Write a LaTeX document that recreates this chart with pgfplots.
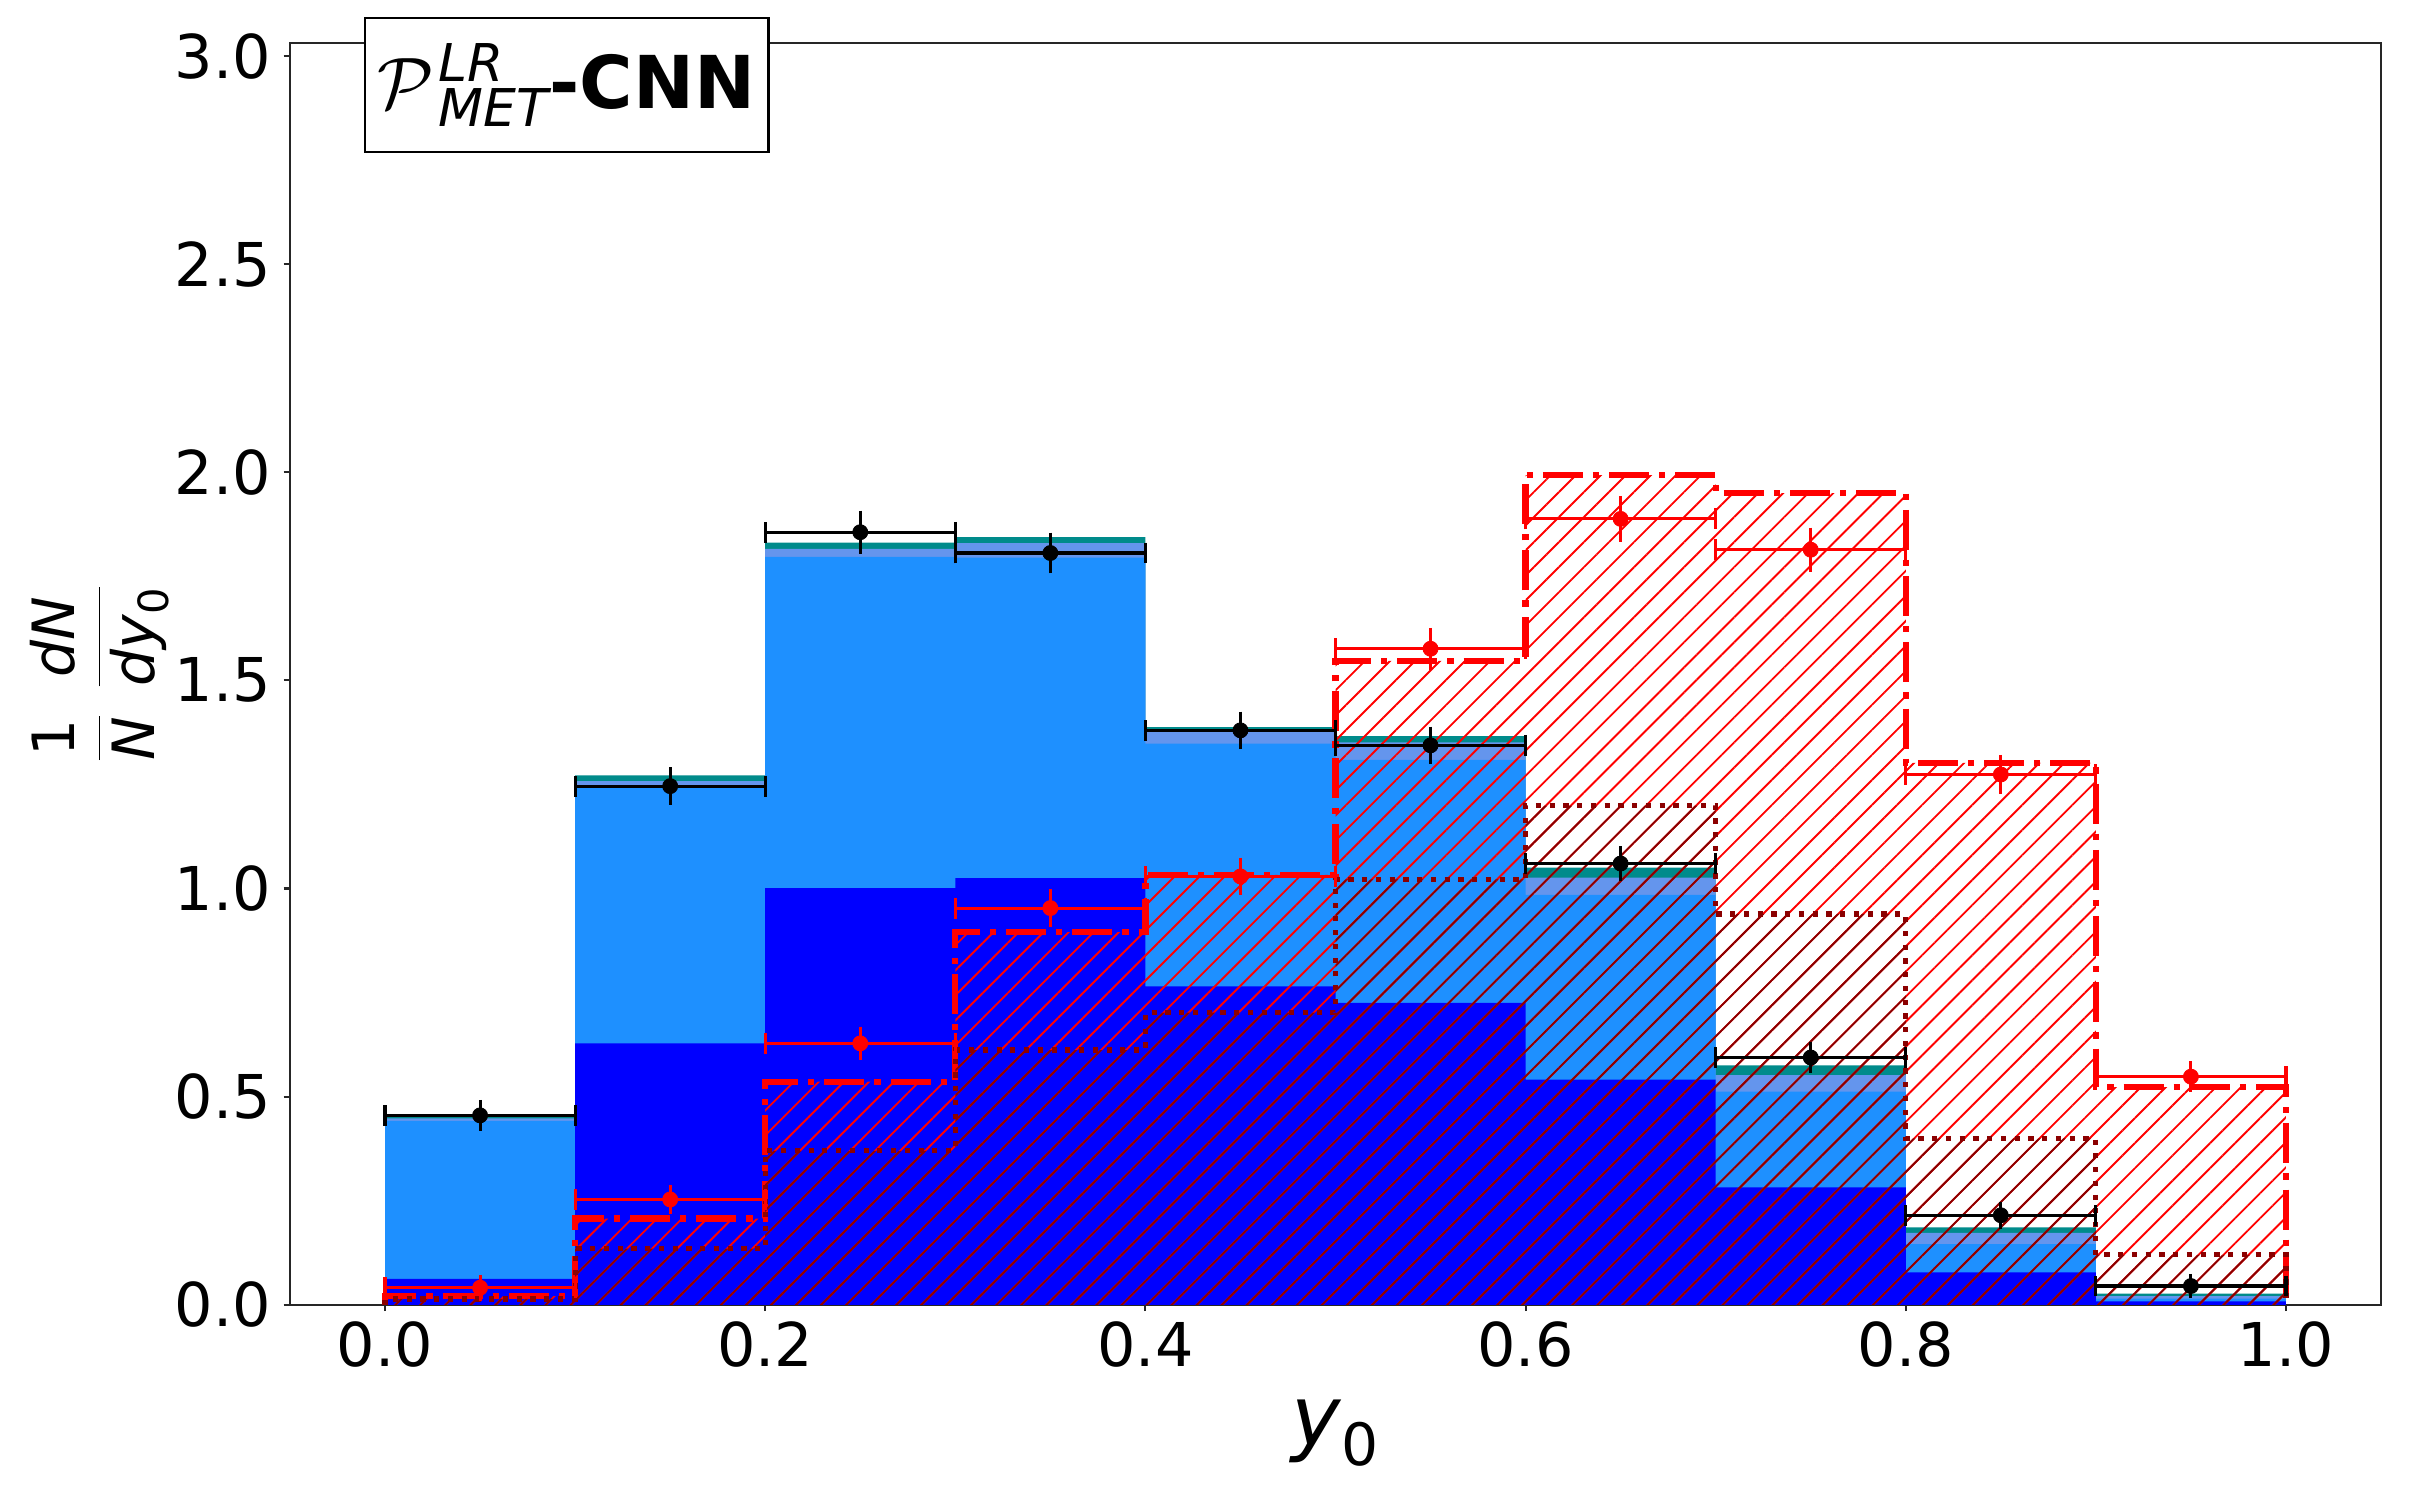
\RequirePackage{fix-cm}
\documentclass[border=0pt]{standalone}
\usepackage{pgfplots}
\pgfplotsset{compat=1.18}
\usepackage{pgfplotstable}
\usepackage{fontspec}
\setmainfont{DejaVu Sans}
\usetikzlibrary{patterns.meta}
\definecolor{dodger}{HTML}{1E90FF}
\definecolor{cornflower}{HTML}{6495ED}
\definecolor{tealc}{HTML}{008B8B}
\definecolor{dred}{HTML}{8B0000}
\definecolor{spine}{HTML}{262626}

\pgfplotstableread{
x y ex ey
0.05 0.455 0.05 0.012
0.15 1.246 0.05 0.020
0.25 1.856 0.05 0.027
0.35 1.806 0.05 0.024
0.45 1.380 0.05 0.020
0.55 1.344 0.05 0.020
0.65 1.060 0.05 0.017
0.75 0.594 0.05 0.012
0.85 0.215 0.05 0.007
0.95 0.045 0.05 0.004
}\blackdata
\pgfplotstableread{
x y ex ey
0.05 0.041 0.05 0.006
0.15 0.253 0.05 0.010
0.25 0.628 0.05 0.015
0.35 0.953 0.05 0.020
0.45 1.029 0.05 0.020
0.55 1.576 0.05 0.025
0.65 1.888 0.05 0.030
0.75 1.814 0.05 0.028
0.85 1.274 0.05 0.022
0.95 0.548 0.05 0.012
}\reddata

\begin{document}
\begin{tikzpicture}
\begin{axis}[name=ax, scale only axis, width=1003.7pt, height=605.8pt,
  xmin=-0.05, xmax=1.05, ymin=0, ymax=3.032,
  xtick={0,0.2,0.4,0.6,0.8,1.0}, xticklabels={0.0,0.2,0.4,0.6,0.8,1.0},
  ytick={0,0.5,1.0,1.5,2.0,2.5,3.0}, yticklabels={0.0,0.5,1.0,1.5,2.0,2.5,3.0},
  xtick pos=bottom, ytick pos=left,
  tick align=outside, major tick length=3pt,
  tick style={line width=1pt, color=spine},
  axis line style={line width=1pt, color=spine},
  tick label style={font=\fontsize{29}{35}\selectfont, inner sep=0pt},
  xticklabel style={yshift=-5pt},
  yticklabel style={xshift=-6pt},
  every axis x label/.style={at={(axis description cs:0.5,-0.1015)}, anchor=center},
  every axis y label/.style={at={(axis description cs:-0.0909,0.5)}, anchor=center, rotate=90},
  xlabel={\fontsize{40}{48}\selectfont $\mbox{\itshape y}_{\mbox{\fontsize{28}{28}\selectfont 0}}$},
  ylabel={\fontsize{28}{34}\selectfont $\displaystyle\frac{\mbox{1}}{\mbox{\itshape N}}\hspace{12pt}\frac{\mbox{\itshape dN}}{\mbox{\itshape dy}_{\mbox{\fontsize{20}{20}\selectfont 0}}}$},
  clip=false,
]
% stacked background (cumulative, drawn top layer first)
\addplot[const plot, fill=tealc, draw=none] coordinates {(0,0.458) (0.1,1.272) (0.2,1.831) (0.3,1.844) (0.4,1.388) (0.5,1.366) (0.6,1.050) (0.7,0.575) (0.8,0.186) (0.9,0.027) (1.0,0.027)} \closedcycle;
\addplot[const plot, fill=cornflower, draw=none] coordinates {(0,0.448) (0.1,1.258) (0.2,1.816) (0.3,1.830) (0.4,1.376) (0.5,1.351) (0.6,1.026) (0.7,0.552) (0.8,0.173) (0.9,0.021) (1.0,0.021)} \closedcycle;
\addplot[const plot, fill=dodger, draw=none] coordinates {(0,0.442) (0.1,1.245) (0.2,1.797) (0.3,1.795) (0.4,1.348) (0.5,1.309) (0.6,0.985) (0.7,0.512) (0.8,0.146) (0.9,0.015) (1.0,0.015)} \closedcycle;
\addplot[const plot, fill=blue, draw=none] coordinates {(0,0.062) (0.1,0.628) (0.2,1.001) (0.3,1.025) (0.4,0.765) (0.5,0.725) (0.6,0.541) (0.7,0.282) (0.8,0.078) (0.9,0.008) (1.0,0.008)} \closedcycle;
% red hatched signal
\addplot[const plot, draw=none, pattern={Lines[angle=45,distance=8.5pt,line width=0.9pt]}, pattern color=red] coordinates {(0,0.021) (0.1,0.207) (0.2,0.536) (0.3,0.895) (0.4,1.033) (0.5,1.547) (0.6,1.993) (0.7,1.950) (0.8,1.302) (0.9,0.523) (1.0,0.523)} \closedcycle;
\addplot[const plot, red, line width=3pt, dash pattern=on 19.2pt off 4.8pt on 3pt off 4.8pt] coordinates {(0,0) (0,0.021) (0.1,0.207) (0.2,0.536) (0.3,0.895) (0.4,1.033) (0.5,1.547) (0.6,1.993) (0.7,1.950) (0.8,1.302) (0.9,0.523) (1.0,0.523) (1.0,0)};
% dark red dotted hatched
\addplot[const plot, draw=none, pattern={Lines[angle=45,distance=8.5pt,line width=0.9pt]}, pattern color=dred] coordinates {(0,0.014) (0.1,0.135) (0.2,0.370) (0.3,0.612) (0.4,0.702) (0.5,1.022) (0.6,1.199) (0.7,0.939) (0.8,0.400) (0.9,0.120) (1.0,0.120)} \closedcycle;
\addplot[const plot, dred, line width=2.5pt, dash pattern=on 2.5pt off 4.1pt] coordinates {(0,0) (0,0.014) (0.1,0.135) (0.2,0.370) (0.3,0.612) (0.4,0.702) (0.5,1.022) (0.6,1.199) (0.7,0.939) (0.8,0.400) (0.9,0.120) (1.0,0.120) (1.0,0)};
% black data points: x errors (vertical caps), then y errors with markers
\addplot[black, only marks, mark=none,
  error bars/.cd, x dir=both, x explicit, error mark=|,
  error bar style={line width=1.5pt, black},
  error mark options={line width=1.5pt, mark size=5pt, black}]
  table[x=x, y=y, x error=ex] {\blackdata};
\addplot[black, only marks, mark=*, mark size=3.6pt,
  error bars/.cd, y dir=both, y explicit, error mark=-,
  error bar style={line width=1.5pt, black},
  error mark options={line width=1.5pt, mark size=5pt, black}]
  table[x=x, y=y, y error=ey] {\blackdata};
% red data points
\addplot[red, only marks, mark=none,
  error bars/.cd, x dir=both, x explicit, error mark=|,
  error bar style={line width=1.5pt, red},
  error mark options={line width=1.5pt, mark size=5pt, red}]
  table[x=x, y=y, x error=ex] {\reddata};
\addplot[red, only marks, mark=*, mark size=3.6pt,
  error bars/.cd, y dir=both, y explicit, error mark=-,
  error bar style={line width=1.5pt, red},
  error mark options={line width=1.5pt, mark size=5pt, red}]
  table[x=x, y=y, y error=ey] {\reddata};
\end{axis}
\node[draw=black, line width=1pt, fill=white, anchor=north west, minimum width=193.9pt, minimum height=64.3pt, inner sep=0pt]
  at ([xshift=35.3pt,yshift=12.3pt]ax.north west)
  {\fontsize{35}{42}\selectfont $\mathcal{P}\mkern1mu^{\mbox{\fontsize{25}{25}\selectfont\itshape LR}}_{\mbox{\fontsize{25}{25}\selectfont\itshape MET}}$\textbf{-CNN}};
\pgfresetboundingbox
\path ([xshift=-139.2pt,yshift=-93.7pt]ax.south west) rectangle ([xshift=14.4pt,yshift=20.5pt]ax.north east);
\end{tikzpicture}
\end{document}
